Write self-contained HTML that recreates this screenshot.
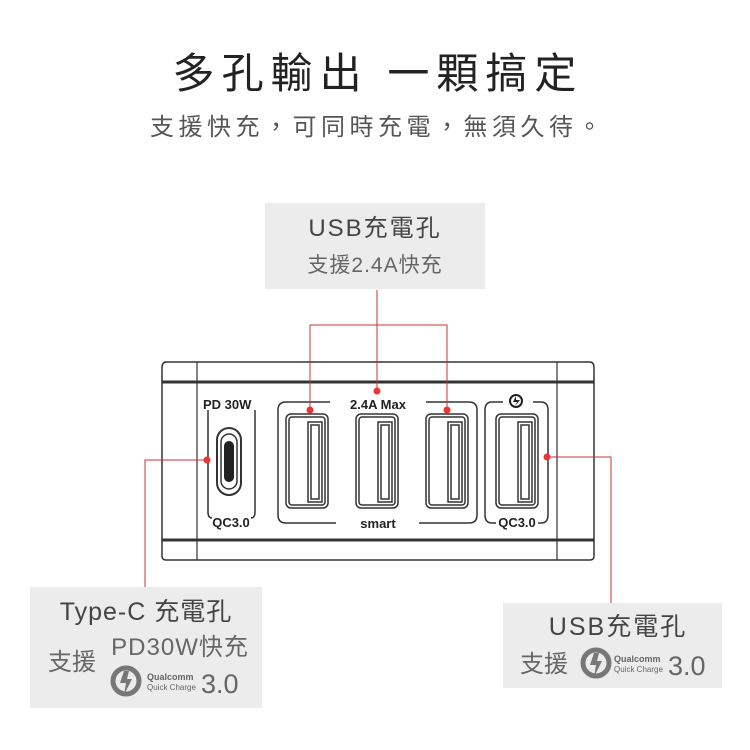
<!DOCTYPE html>
<html><head><meta charset="utf-8"><style>
body{margin:0;width:750px;height:750px;background:#fff;overflow:hidden}
svg{display:block}
text{font-family:"Liberation Sans","Noto Sans CJK TC",sans-serif}
</style></head><body>
<svg width="750" height="750" viewBox="0 0 750 750">
<text x="378" y="88" text-anchor="middle" font-size="42" fill="#222" letter-spacing="7">多孔輸出 一顆搞定</text>
<text x="378" y="135" text-anchor="middle" font-size="24" fill="#555" letter-spacing="4.5">支援快充，可同時充電，無須久待。</text>

<rect x="265" y="203" width="220" height="86" fill="#ececec"/>
<text x="375" y="236" text-anchor="middle" font-size="24" fill="#444" letter-spacing="2">USB充電孔</text>
<text x="375" y="272" text-anchor="middle" font-size="21" fill="#666" letter-spacing="1">支援2.4A快充</text>

<rect x="30" y="587" width="232" height="121" fill="#ececec"/>
<text x="146" y="620" text-anchor="middle" font-size="25" fill="#444" letter-spacing="1">Type-C 充電孔</text>
<text x="180" y="655" text-anchor="middle" font-size="24" fill="#666" letter-spacing="1">PD30W快充</text>
<text x="48" y="670" font-size="24" fill="#666">支援</text>
<g transform="translate(126,681)">
<circle r="13" fill="none" stroke="#777" stroke-width="5"/>
<path d="M-2,-10 L-6,2 L0,2 L-2,14 L6,-2 L1,-2 L3,-10Z" fill="#777"/>
</g>
<text x="147" y="680" font-size="9" font-weight="bold" fill="#666">Qualcomm</text>
<text x="147" y="690" font-size="8" fill="#666">Quick Charge</text>
<text x="201" y="693" font-size="27" fill="#666">3.0</text>

<rect x="503" y="603" width="219" height="85" fill="#ececec"/>
<text x="618" y="635" text-anchor="middle" font-size="25" fill="#444" letter-spacing="2">USB充電孔</text>
<text x="520" y="672" font-size="24" fill="#666">支援</text>
<g transform="translate(596,663)">
<circle r="13" fill="none" stroke="#777" stroke-width="5"/>
<path d="M-2,-10 L-6,2 L0,2 L-2,14 L6,-2 L1,-2 L3,-10Z" fill="#777"/>
</g>
<text x="614" y="662" font-size="9" font-weight="bold" fill="#666">Qualcomm</text>
<text x="614" y="672" font-size="8" fill="#666">Quick Charge</text>
<text x="668" y="675" font-size="27" fill="#666">3.0</text>

<!-- device -->
<g fill="none" stroke="#333">
<path d="M166,362 H590 Q594,362 594,368 V556 Q594,560 590,560 H166 Q162,560 162,556 V368 Q162,362 166,362Z" stroke-width="1.5"/>
<line x1="162" y1="382" x2="594" y2="382" stroke-width="3"/>
<line x1="162" y1="540" x2="594" y2="540" stroke-width="3"/>
<line x1="197" y1="362" x2="197" y2="560" stroke-width="1.2"/>
<line x1="557" y1="362" x2="557" y2="560" stroke-width="1.2"/>
<path d="M208,410 V512 Q208,518 212,518" stroke-width="1.5"/>
<path d="M255,410 V512 Q255,518 251,518" stroke-width="1.5"/>
<rect x="217" y="428" width="24" height="67" rx="12" stroke-width="2"/>
<rect x="221" y="434" width="16" height="55" rx="8" stroke-width="1.5"/>
<rect x="224" y="441" width="10" height="41" rx="5" fill="#222" stroke="none"/>
<path d="M330,402 H286 Q278,402 278,410 V515 Q278,523 286,523 H336" stroke-width="1.5"/>
<path d="M426,402 H469 Q477,402 477,410 V515 Q477,523 469,523 H419" stroke-width="1.5"/>
<path d="M503,402 H492 Q485,402 485,410 V515 Q485,523 492,523 H496" stroke-width="1.5"/>
<path d="M533,402 H541 Q548,402 548,410 V515 Q548,523 541,523 H538" stroke-width="1.5"/>
</g>
<g fill="none" stroke="#333" stroke-width="1.5">
<g id="u"><rect x="286" y="414" width="42" height="94" rx="5"/><rect x="289" y="417" width="36" height="88" rx="3"/><rect x="308" y="422" width="14" height="80"/><rect x="311" y="425" width="8" height="74"/></g>
<use href="#u" x="70"/><use href="#u" x="140"/><use href="#u" x="210"/>
</g>
<g font-weight="bold" fill="#222" font-size="13">
<text x="203" y="409">PD 30W</text>
<text x="231" y="527" text-anchor="middle">QC3.0</text>
<text x="378" y="409" text-anchor="middle">2.4A Max</text>
<text x="378" y="528" text-anchor="middle">smart</text>
<text x="517" y="527" text-anchor="middle">QC3.0</text>
</g>
<circle cx="516" cy="401" r="6" fill="none" stroke="#222" stroke-width="2"/>
<path d="M516,396 L513,402 H517 L515,406 L520,400 H516Z" fill="#222"/>
<g stroke="#c33" stroke-width="1" fill="none">
<path d="M377,290 V391"/><path d="M310,410 V325 H447 V410"/>
<path d="M207,460 H145 V587"/><path d="M547,457 H611 V603"/>
</g>
<g fill="#e33">
<circle cx="310" cy="410" r="3.5"/><circle cx="377" cy="391" r="3.5"/><circle cx="447" cy="410" r="3.5"/>
<circle cx="207" cy="460" r="3.5"/><circle cx="547" cy="457" r="3.5"/>
</g>
</svg>
</body></html>
